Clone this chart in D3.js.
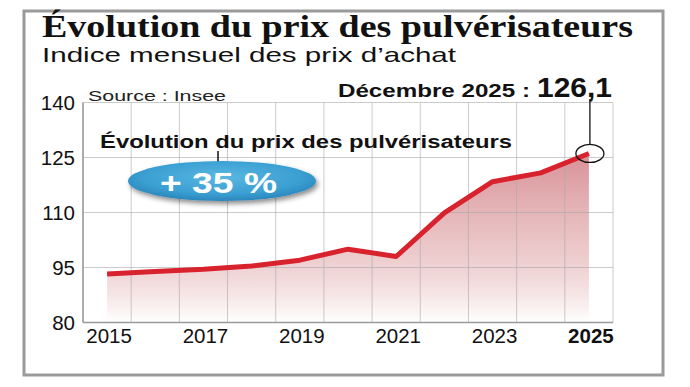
<!DOCTYPE html>
<html>
<head>
<meta charset="utf-8">
<script src="https://cdn.jsdelivr.net/npm/d3@7"></script>
<style>
  body { margin: 0; background: #fff; }
  svg { display: block; }
</style>
</head>
<body>
<svg id="chart" width="690" height="387"></svg>
<script>
// data
const years = [2015, 2016, 2017, 2018, 2019, 2020, 2021, 2022, 2023, 2024, 2025]
const index = [93.2, 93.9, 94.5, 95.4, 97.0, 100.0, 98.0, 109.9, 118.4, 120.8, 126.1]
const yTicks = [80, 95, 110, 125, 140]
const xLabels = [2015, 2017, 2019, 2021, 2023, 2025]
const lastLabel = "126,1"

const svg = d3.select("#chart")
const plotL = 83, plotR = 613, plotT = 102.5, plotB = 322.5

const x = d3.scaleBand().domain(years).range([plotL, plotR])
const cx = d => x(d) + x.bandwidth() / 2
const y = d3.scaleLinear().domain([80, 140]).range([plotB, plotT])

// frame
svg.append("rect")
  .attr("x", 24).attr("y", 11).attr("width", 639).attr("height", 364)
  .attr("fill", "none").attr("stroke", "#9a9a9a").attr("stroke-width", 3)

// titles
svg.append("text")
  .attr("x", 42).attr("y", 37)
  .attr("font-family", "Liberation Serif, DejaVu Serif, serif")
  .attr("font-weight", "bold").attr("font-size", 31)
  .attr("textLength", 591).attr("lengthAdjust", "spacingAndGlyphs")
  .attr("fill", "#111")
  .text("Évolution du prix des pulvérisateurs")
svg.append("text")
  .attr("x", 42).attr("y", 62)
  .attr("font-family", "Liberation Sans, Arial, sans-serif")
  .attr("font-size", 21)
  .attr("textLength", 414).attr("lengthAdjust", "spacingAndGlyphs")
  .attr("fill", "#111")
  .text("Indice mensuel des prix d’achat")

// gradients + filters
const defs = svg.append("defs")
const grad = defs.append("linearGradient")
  .attr("id", "fade").attr("gradientUnits", "userSpaceOnUse")
  .attr("x1", 0).attr("x2", 0).attr("y1", y(126)).attr("y2", y(80))
grad.append("stop").attr("offset", 0).attr("stop-color", "#d4858c").attr("stop-opacity", 0.9)
grad.append("stop").attr("offset", 0.55).attr("stop-color", "#e0a9ab").attr("stop-opacity", 0.65)
grad.append("stop").attr("offset", 1).attr("stop-color", "#fff").attr("stop-opacity", 0.9)

const shadow = defs.append("filter").attr("id", "shadow").attr("x", "-20%").attr("y", "-40%").attr("width", "140%").attr("height", "190%")
shadow.append("feDropShadow").attr("dx", 2).attr("dy", 3).attr("stdDeviation", 2.5).attr("flood-color", "#000").attr("flood-opacity", 0.45)

const ballGrad = defs.append("radialGradient").attr("id", "ball").attr("cx", "50%").attr("cy", "40%").attr("r", "60%")
ballGrad.append("stop").attr("offset", 0).attr("stop-color", "#5ab7e2")
ballGrad.append("stop").attr("offset", 0.7).attr("stop-color", "#3a9fd2")
ballGrad.append("stop").attr("offset", 1).attr("stop-color", "#2b86bb")

// area under the line
const area = d3.area().x((d, i) => cx(years[i])).y0(y(80)).y1(d => y(d))
svg.append("path").attr("d", area(index)).attr("fill", "url(#fade)")

// grid on top of the fill
const grid = svg.append("g")
grid.selectAll("line.v")
  .data(d3.range(years.length + 1))
  .join("line")
  .attr("x1", i => plotL + i * x.step()).attr("x2", i => plotL + i * x.step())
  .attr("y1", plotT).attr("y2", plotB)
  .attr("stroke", "#a8a8a8").attr("stroke-opacity", 0.6).attr("stroke-width", 1)
grid.selectAll("line.h")
  .data(yTicks)
  .join("line")
  .attr("x1", plotL).attr("x2", plotR)
  .attr("y1", d => y(d)).attr("y2", d => y(d))
  .attr("stroke", "#a8a8a8").attr("stroke-opacity", 0.6).attr("stroke-width", 1)

// axes
svg.append("line").attr("x1", plotL).attr("x2", plotR).attr("y1", plotB).attr("y2", plotB)
  .attr("stroke", "#9a9a9a").attr("stroke-width", 1.5)
svg.append("line").attr("x1", plotL).attr("x2", plotL).attr("y1", plotT).attr("y2", plotB)
  .attr("stroke", "#9a9a9a").attr("stroke-width", 1.5)

const line = d3.line().x((d, i) => cx(years[i])).y(d => y(d))
svg.append("path").attr("d", line(index))
  .attr("fill", "none").attr("stroke", "#d8232e").attr("stroke-width", 5)
  .attr("stroke-linejoin", "round")

// tick labels
svg.append("g").selectAll("text")
  .data(yTicks)
  .join("text")
  .attr("x", 75).attr("y", d => y(d) + 7)
  .attr("text-anchor", "end")
  .attr("font-family", "Liberation Sans, Arial, sans-serif").attr("font-size", 20.5)
  .attr("fill", "#111")
  .text(d => d)
svg.append("g").selectAll("text")
  .data(xLabels)
  .join("text")
  .attr("x", d => cx(d) + 2).attr("y", 343)
  .attr("text-anchor", "middle")
  .attr("font-family", "Liberation Sans, Arial, sans-serif").attr("font-size", 20.5)
  .attr("font-weight", d => d === 2025 ? "bold" : "normal")
  .attr("fill", "#111")
  .text(d => d)

svg.append("text")
  .attr("x", 88).attr("y", 101)
  .attr("font-family", "Liberation Sans, Arial, sans-serif").attr("font-size", 14.5)
  .attr("textLength", 138).attr("lengthAdjust", "spacingAndGlyphs")
  .attr("fill", "#222")
  .text("Source : Insee")

// annotation + bubble
svg.append("text")
  .attr("x", 100).attr("y", 148)
  .attr("font-family", "Liberation Sans, Arial, sans-serif").attr("font-size", 18)
  .attr("font-weight", "bold")
  .attr("textLength", 412).attr("lengthAdjust", "spacingAndGlyphs")
  .attr("fill", "#111")
  .text("Évolution du prix des pulvérisateurs")
svg.append("line").attr("x1", 218).attr("x2", 218).attr("y1", 151).attr("y2", 162)
  .attr("stroke", "#111").attr("stroke-width", 1.5)
svg.append("ellipse")
  .attr("cx", 222).attr("cy", 181).attr("rx", 94).attr("ry", 20)
  .attr("fill", "url(#ball)").attr("filter", "url(#shadow)")
svg.append("text")
  .attr("x", 160).attr("y", 193)
  .attr("font-family", "Liberation Sans, Arial, sans-serif").attr("font-size", 29)
  .attr("font-weight", "bold").attr("fill", "#fff")
  .attr("textLength", 117).attr("lengthAdjust", "spacingAndGlyphs")
  .text("+ 35 %")

// last value callout
const lastX = cx(years[years.length - 1]), lastY = y(index[index.length - 1])
svg.append("line").attr("x1", lastX + 1).attr("x2", lastX + 1).attr("y1", 99).attr("y2", lastY - 9)
  .attr("stroke", "#111").attr("stroke-width", 1.3)
svg.append("ellipse")
  .attr("cx", lastX + 1).attr("cy", lastY).attr("rx", 14).attr("ry", 9)
  .attr("fill", "none").attr("stroke", "#111").attr("stroke-width", 1.3)
svg.append("text")
  .attr("x", 338).attr("y", 97)
  .attr("font-family", "Liberation Sans, Arial, sans-serif").attr("font-size", 19)
  .attr("font-weight", "bold")
  .attr("textLength", 192).attr("lengthAdjust", "spacingAndGlyphs")
  .attr("fill", "#111")
  .text("Décembre 2025 :")
svg.append("text")
  .attr("x", 537).attr("y", 97)
  .attr("font-family", "Liberation Sans, Arial, sans-serif").attr("font-size", 28)
  .attr("font-weight", "bold")
  .attr("textLength", 75).attr("lengthAdjust", "spacingAndGlyphs")
  .attr("fill", "#111")
  .text(lastLabel)
</script>
</body>
</html>
